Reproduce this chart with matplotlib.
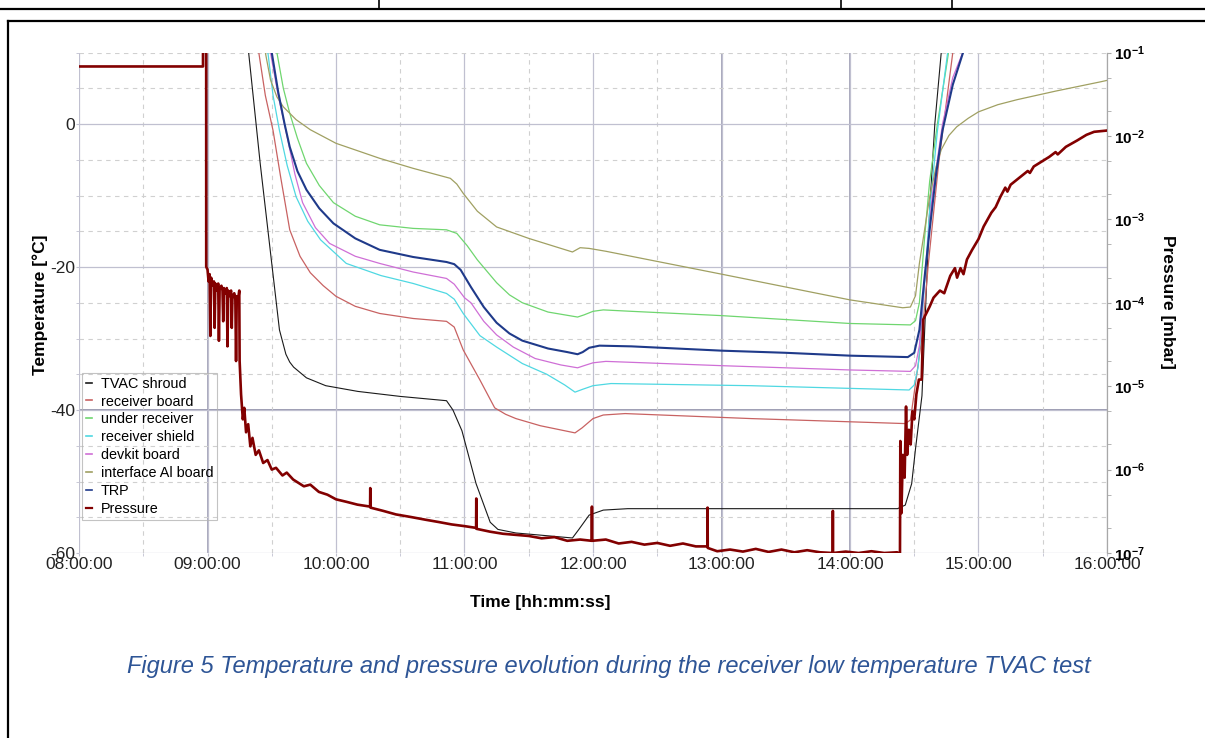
"""
Temperature and pressure evolution during the receiver low temperature TVAC test.
"""
import math
import matplotlib
matplotlib.use("Agg")
import matplotlib.pyplot as plt
import matplotlib.dates as mdates
from matplotlib.lines import Line2D
from matplotlib.ticker import MultipleLocator, LogLocator, FuncFormatter, NullFormatter
import pandas as pd

DAY = "2019-05-14 "

# ---- temperature series [degC] ----
shroud_t = ["09:16:48", "09:19:12", "09:24:36", "09:30:00", "09:33:36", "09:36:36", "09:38:24",
            "09:40:12", "09:46:12", "09:55:12", "10:10:12", "10:30:00", "10:51:36", "10:54:36",
            "10:58:48", "11:05:24", "11:12:00", "11:15:36", "11:24:00", "11:35:24", "11:50:24",
            "11:53:24", "11:58:12", "12:04:48", "12:16:12", "13:30:00", "14:22:12", "14:25:48",
            "14:28:48", "14:30:36", "14:33:36", "14:35:24", "14:37:12", "14:39:36", "14:42:36",
            "14:43:48"]
shroud_v = [20, 10, -5.5, -19.5, -28.8, -32.2, -33.3,
            -34.0, -35.5, -36.6, -37.4, -38.1, -38.7, -40.0,
            -42.9, -50.3, -55.7, -56.7, -57.2, -57.5, -57.9,
            -56.7, -54.7, -54.0, -53.8, -53.8, -53.8, -53.3,
            -50.3, -45.4, -38.0, -25.0, -12.0, 0.0, 10.0,
            16]

board_t = ["09:22:12", "09:24:00", "09:27:00", "09:30:36", "09:34:12", "09:38:24", "09:43:12",
           "09:48:00", "09:54:00", "10:00:00", "10:09:00", "10:20:24", "10:36:00", "10:51:36",
           "10:55:12", "10:59:24", "11:07:12", "11:14:06", "11:19:12", "11:24:00", "11:35:24",
           "11:51:36", "11:54:54", "12:00:00", "12:04:48", "12:15:00", "13:13:48", "14:25:48",
           "14:28:12", "14:31:12", "14:33:36", "14:36:36", "14:41:24", "14:45:00", "14:48:00",
           "14:49:48"]
board_v = [18, 9.9, 4.0, -0.9, -7.5, -14.8, -18.5,
           -20.8, -22.6, -24.1, -25.5, -26.5, -27.2, -27.6,
           -28.4, -31.6, -35.8, -39.7, -40.6, -41.2, -42.2,
           -43.2, -42.5, -41.2, -40.7, -40.5, -41.2, -41.9,
           -41.4, -35.0, -29.8, -19.5, -5.5, 3.0, 10.0,
           15]

under_t = ["09:30:00", "09:32:24", "09:35:24", "09:38:24", "09:42:00", "09:46:12", "09:52:12",
           "09:58:48", "10:09:00", "10:20:24", "10:36:00", "10:51:36", "10:56:24", "11:01:12",
           "11:06:00", "11:15:00", "11:21:00", "11:27:00", "11:39:00", "11:52:48", "11:55:48",
           "12:00:00", "12:04:48", "12:18:00", "13:00:00", "14:00:00", "14:28:12", "14:30:36",
           "14:32:24", "14:34:48", "14:37:12", "14:40:48", "14:45:00", "14:48:00"]
under_v = [18, 10, 5.0, 1.5, -2.0, -5.5, -8.6,
           -11.0, -12.9, -14.1, -14.6, -14.8, -15.3, -17.0,
           -19.0, -22.2, -23.9, -25.0, -26.3, -27.0, -26.7,
           -26.2, -26.0, -26.2, -26.8, -27.9, -28.1, -27.5,
           -25.0, -16.0, -8.0, 0.0, 8.0, 14]

shield_t = ["09:25:48", "09:28:12", "09:30:36", "09:33:36", "09:37:12", "09:41:24", "09:46:48",
            "09:52:48", "10:04:48", "10:21:00", "10:36:00", "10:51:36", "10:55:12", "10:59:24",
            "11:07:12", "11:15:00", "11:27:00", "11:38:24", "11:46:48", "11:51:36", "11:55:12",
            "12:00:00", "12:08:24", "13:13:48", "14:27:36", "14:30:00", "14:31:48", "14:34:12",
            "14:37:12", "14:40:48", "14:43:12", "14:45:36", "14:48:00"]
shield_v = [18, 10, 4.0, -0.9, -5.8, -10.2, -13.6,
            -16.2, -19.5, -21.2, -22.3, -23.7, -24.5, -26.5,
            -29.6, -31.2, -33.5, -35.0, -36.5, -37.5, -37.1,
            -36.6, -36.3, -36.6, -37.2, -36.5, -34.0, -25.0,
            -12.0, -1.0, 4.5, 10.0, 15]

devkit_t = ["09:26:24", "09:29:24", "09:33:00", "09:37:12", "09:40:48", "09:44:24", "09:50:24",
            "09:57:00", "10:09:00", "10:20:24", "10:36:00", "10:51:36", "10:55:12", "11:00:00",
            "11:03:00", "11:09:00", "11:15:00", "11:22:48", "11:33:00", "11:45:00", "11:52:48",
            "11:55:48", "12:00:00", "12:06:00", "13:00:00", "14:00:00", "14:28:12", "14:30:36",
            "14:32:24", "14:34:48", "14:38:24", "14:43:12", "14:48:00", "14:54:00"]
devkit_v = [18, 10, 4.0, -1.8, -7.0, -11.0, -14.5,
            -16.7, -18.5, -19.5, -20.7, -21.6, -22.4, -24.3,
            -25.0, -27.6, -29.5, -31.2, -32.8, -33.7, -34.1,
            -33.8, -33.4, -33.2, -33.8, -34.4, -34.6, -33.8,
            -31.0, -22.0, -10.0, 0.0, 6.5, 11.0]

alboard_t = ["09:24:00", "09:27:00", "09:29:24", "09:32:24", "09:35:24", "09:41:24", "09:48:00",
             "10:00:00", "10:20:24", "10:36:00", "10:53:24", "10:56:24", "10:59:24", "11:06:00",
             "11:15:00", "11:30:00", "11:50:24", "11:54:00", "11:58:12", "12:06:00", "13:00:00",
             "14:00:00", "14:24:36", "14:28:12", "14:30:36", "14:32:24", "14:37:12", "14:40:12",
             "14:42:36", "14:46:12", "14:49:48", "14:55:12", "15:00:00", "15:09:00", "15:18:00",
             "15:36:00", "15:57:00", "16:00:00"]
alboard_v = [16, 10, 6.2, 3.8, 2.4, 0.6, -0.8,
             -2.7, -4.8, -6.2, -7.6, -8.4, -9.7, -12.2,
             -14.4, -16.0, -17.9, -17.3, -17.4, -17.8, -21.0,
             -24.6, -25.7, -25.6, -24.0, -19.5, -10.2, -6.0,
             -3.6, -1.6, -0.4, 0.8, 1.7, 2.7, 3.4,
             4.6, 5.9, 6.1]

trp_t = ["09:27:36", "09:30:00", "09:33:00", "09:36:00", "09:38:24", "09:42:00", "09:46:12",
         "09:52:12", "09:58:48", "10:09:00", "10:20:24", "10:36:00", "10:51:36", "10:55:12",
         "10:58:12", "11:03:00", "11:09:00", "11:15:00", "11:21:00", "11:27:00", "11:39:00",
         "11:48:00", "11:52:48", "11:55:12", "11:58:12", "12:03:00", "12:18:00", "13:00:00",
         "13:30:00", "14:00:00", "14:27:00", "14:30:00", "14:32:24", "14:34:48", "14:37:12",
         "14:40:12", "14:43:12", "14:48:00", "14:52:48", "14:55:48"]
trp_v = [18, 10, 4.5, 0.0, -3.2, -6.6, -9.2,
         -11.8, -13.9, -16.0, -17.6, -18.6, -19.3, -19.6,
         -20.4, -22.8, -25.6, -27.8, -29.3, -30.3, -31.4,
         -31.9, -32.2, -31.9, -31.3, -31.0, -31.1, -31.7,
         -32.0, -32.4, -32.6, -32.0, -28.8, -21.5, -14.8,
         -7.0, -0.9, 5.5, 10.0, 13]

# ---- pressure [mbar] ----
press_t = ["08:00:00", "08:57:54", "08:57:55", "08:59:23", "08:59:24", "09:00:00", "09:00:30",
           "09:01:00", "09:01:20", "09:01:40", "09:02:30", "09:03:00", "09:03:20", "09:03:40",
           "09:04:30", "09:05:00", "09:05:20", "09:05:40", "09:06:30", "09:07:00", "09:07:20",
           "09:07:40", "09:08:30", "09:09:00", "09:09:20", "09:09:40", "09:10:30", "09:11:00",
           "09:11:20", "09:11:40", "09:12:30", "09:13:00", "09:13:20", "09:13:40", "09:14:20",
           "09:14:50", "09:15:00", "09:15:40", "09:16:30", "09:17:10", "09:18:00", "09:19:00",
           "09:20:00", "09:21:00", "09:22:30", "09:24:00", "09:26:00", "09:28:00", "09:30:00",
           "09:32:00", "09:35:00", "09:37:00", "09:40:00", "09:45:00", "09:48:00", "09:52:00",
           "09:56:00", "10:00:00", "10:05:00", "10:10:00", "10:15:55", "10:16:00", "10:16:05",
           "10:22:00", "10:28:00", "10:35:00", "10:42:00", "10:48:00", "10:54:00", "11:00:00",
           "11:05:25", "11:05:30", "11:05:35", "11:12:00", "11:18:00", "11:24:00", "11:30:00",
           "11:36:00", "11:42:00", "11:48:00", "11:54:00", "11:59:25", "11:59:30", "11:59:35",
           "12:06:00", "12:12:00", "12:18:00", "12:24:00", "12:30:00", "12:36:00", "12:42:00",
           "12:48:00", "12:53:25", "12:53:30", "12:53:35", "12:58:00", "13:04:00", "13:10:00",
           "13:16:00", "13:22:00", "13:28:00", "13:34:00", "13:40:00", "13:46:00", "13:51:55",
           "13:52:00", "13:52:05", "13:58:00", "14:04:00", "14:10:00", "14:16:00", "14:22:00",
           "14:23:20", "14:23:30", "14:24:00", "14:24:40", "14:25:30", "14:26:10", "14:26:40",
           "14:27:30", "14:28:20", "14:29:10", "14:30:00", "14:31:00", "14:32:10", "14:33:29",
           "14:34:12", "14:37:12", "14:39:00", "14:42:00", "14:44:00", "14:46:48", "14:49:00",
           "14:50:00", "14:51:36", "14:53:00", "14:54:36", "14:57:00", "15:00:00", "15:02:24",
           "15:06:00", "15:08:00", "15:10:12", "15:12:30", "15:13:30", "15:15:00", "15:20:00",
           "15:23:00", "15:24:00", "15:25:48", "15:33:00", "15:36:00", "15:37:00", "15:40:48",
           "15:46:00", "15:50:24", "15:54:00", "16:00:00"]
press_v = [0.068, 0.068, 0.3, 0.3, 2.7e-4, 2.5e-4, 1.8e-4,
           2.2e-4, 4e-5, 2.0e-4, 1.6e-4, 1.8e-4, 5e-5, 1.7e-4,
           1.4e-4, 1.7e-4, 3.5e-5, 1.5e-4, 1.6e-4, 1.4e-4, 6e-5,
           1.5e-4, 1.3e-4, 1.5e-4, 3e-5, 1.4e-4, 1.2e-4, 1.4e-4,
           5e-5, 1.2e-4, 1.3e-4, 1.1e-4, 2e-5, 1.2e-4, 1.1e-4,
           1.4e-4, 2.0e-5, 8e-6, 4e-6, 5.5e-6, 2.8e-6, 3.5e-6,
           1.9e-6, 2.4e-6, 1.5e-6, 1.7e-6, 1.2e-6, 1.3e-6, 1.0e-6,
           1.05e-6, 8.5e-7, 9.2e-7, 7.6e-7, 6.3e-7, 6.6e-7, 5.4e-7,
           5.0e-7, 4.4e-7, 4.1e-7, 3.8e-7, 3.6e-7, 6.0e-7, 3.5e-7,
           3.2e-7, 2.9e-7, 2.7e-7, 2.5e-7, 2.35e-7, 2.2e-7, 2.1e-7,
           2.0e-7, 4.5e-7, 1.95e-7, 1.8e-7, 1.7e-7, 1.65e-7, 1.6e-7,
           1.5e-7, 1.55e-7, 1.4e-7, 1.45e-7, 1.4e-7, 3.6e-7, 1.4e-7,
           1.45e-7, 1.3e-7, 1.36e-7, 1.26e-7, 1.32e-7, 1.22e-7, 1.3e-7,
           1.2e-7, 1.2e-7, 3.5e-7, 1.15e-7, 1.05e-7, 1.1e-7, 1.04e-7,
           1.12e-7, 1.03e-7, 1.1e-7, 1.02e-7, 1.08e-7, 1.02e-7, 1.0e-7,
           3.2e-7, 1.0e-7, 1.04e-7, 1.0e-7, 1.05e-7, 1.0e-7, 1.02e-7,
           9.8e-8, 2.2e-6, 3e-7, 1.5e-6, 8e-7, 5.7e-6, 1.5e-6,
           3e-6, 2e-6, 5e-6, 4e-6, 8e-6, 1.2e-5, 1.2e-5,
           6.3e-5, 9e-5, 1.15e-4, 1.4e-4, 1.3e-4, 2.1e-4, 2.6e-4,
           2.0e-4, 2.6e-4, 2.2e-4, 3.3e-4, 4.3e-4, 5.8e-4, 8.2e-4,
           1.2e-3, 1.4e-3, 1.86e-3, 2.4e-3, 2.15e-3, 2.6e-3, 3.3e-3,
           3.8e-3, 3.6e-3, 4.3e-3, 5.6e-3, 6.4e-3, 6.0e-3, 7.4e-3,
           8.8e-3, 1.03e-2, 1.12e-2, 1.16e-2]

event_times = ["09:00:00", "13:00:00", "14:00:00"]
limit_temps = [-40]
x_range = ["08:00:00", "16:00:00"]

labels = ["TVAC shroud", "receiver board", "under receiver", "receiver shield",
          "devkit board", "interface Al board", "TRP", "Pressure"]


def to_time(hms):
    return pd.to_datetime([DAY + t for t in hms])


plt.rcParams['font.family'] = ['Liberation Sans', 'DejaVu Sans']
plt.rcParams['axes.unicode_minus'] = False
plt.rcParams['mathtext.fontset'] = 'custom'
plt.rcParams['mathtext.rm'] = 'Liberation Sans'
plt.rcParams['mathtext.bf'] = 'Liberation Sans:bold'

W, H = 1205, 738
fig = plt.figure(figsize=(W / 100, H / 100), dpi=100, facecolor='white')
ax = fig.add_axes([79 / W, 1 - 553 / H, (1107 - 79) / W, (553 - 52.5) / H])
ax.set_facecolor('none')

grid_c = '#c0c0d0'
ax.set_ylim(-60, 10)
xr = to_time(x_range)
ax.set_xlim(xr[0], xr[1])
ax.yaxis.set_major_locator(MultipleLocator(20))
ax.yaxis.set_minor_locator(MultipleLocator(5))
ax.xaxis.set_major_locator(mdates.HourLocator())
ax.xaxis.set_minor_locator(mdates.MinuteLocator(byminute=[30]))
ax.xaxis.set_major_formatter(mdates.DateFormatter('%H:%M:%S'))
ax.grid(which='major', color=grid_c, lw=0.9, zorder=0)
ax.grid(which='minor', color='#d0d0d0', lw=0.8, ls=(0, (4, 4)), zorder=0)
ax.tick_params(which='both', length=2, color=grid_c, labelsize=12.5, pad=1, labelcolor='#222222')
for s in ax.spines.values():
    s.set_visible(False)

for t in to_time(event_times):
    ax.axvline(t, color='#9a9ab0', lw=1.2, zorder=0.5)
for v in limit_temps:
    ax.axhline(v, color='#9a9ab0', lw=1.4, zorder=0.5)

series = [
    (shroud_t, shroud_v, '#1a1a1a', 0.8),
    (board_t, board_v, '#c86262', 0.9),
    (under_t, under_v, '#6fd66f', 0.9),
    (shield_t, shield_v, '#4fd8e2', 0.9),
    (devkit_t, devkit_v, '#cf6fd6', 0.9),
    (alboard_t, alboard_v, '#a0a062', 0.9),
    (trp_t, trp_v, '#1f3a8a', 1.5),
]
handles = []
for (tt, vv, c, lw), lab in zip(series, labels):
    ax.plot(to_time(tt), vv, color=c, lw=lw, zorder=2)
    handles.append(Line2D([], [], color=c, lw=1.2))

ax2 = ax.twinx()
ax2.set_yscale('log')
ax2.set_ylim(1e-7, 1e-1)
ax2.plot(to_time(press_t), press_v, color='#820000', lw=1.9, zorder=3)
handles.append(Line2D([], [], color='#820000', lw=1.6))
ax2.yaxis.set_major_locator(LogLocator(base=10, numticks=10))
ax2.yaxis.set_minor_locator(LogLocator(base=10, subs=(2, 5), numticks=10))
ax2.yaxis.set_minor_formatter(NullFormatter())
ax2.yaxis.set_major_formatter(
    FuncFormatter(lambda v, p: r'$\mathbf{10^{%d}}$' % int(round(math.log10(v)))))
ax2.tick_params(which='both', length=3, color='#a8a8a8', labelsize=11, pad=2)
for k, s in ax2.spines.items():
    s.set_visible(k == 'right')
ax2.spines['right'].set_color('#a8a8a8')
ax2.spines['right'].set_linewidth(0.9)

leg = ax2.legend(handles, labels, loc='upper left', bbox_to_anchor=(82 / W, 1 - 373 / H),
                 bbox_transform=fig.transFigure, fontsize=10.4, frameon=True, fancybox=False,
                 edgecolor='#b4b4b4', handlelength=0.45, handletextpad=0.6,
                 labelspacing=0.27, borderpad=0.25, borderaxespad=0)
leg.get_frame().set_facecolor('none')
leg.get_frame().set_linewidth(0.8)

fig.text(40 / W, 1 - 305 / H, 'Temperature [°C]', rotation=90, ha='center', va='center',
         fontsize=12.5, fontweight='bold')
fig.text(1168 / W, 1 - 302 / H, 'Pressure [mbar]', rotation=270, ha='center', va='center',
         fontsize=12.5, fontweight='bold')
fig.text(540 / W, 1 - 603 / H, 'Time [hh:mm:ss]', ha='center', va='center',
         fontsize=12.5, fontweight='bold')

fig.text(609 / W, 1 - 666 / H,
         'Figure 5 Temperature and pressure evolution during the receiver low temperature TVAC test',
         ha='center', va='center', fontsize=17, style='italic', color='#2e5596')


# page borders of the surrounding document
def page_line(x0, y0, x1, y1, lw=1.6):
    fig.add_artist(Line2D([x0 / W, x1 / W], [1 - y0 / H, 1 - y1 / H], color='black', lw=lw,
                          transform=fig.transFigure))


page_line(0, 9, W, 9)
for xv in [379, 841, 952]:
    page_line(xv, 0, xv, 9, lw=1.2)
page_line(8, 21, W, 21)
page_line(8, 21, 8, H)

fig.savefig('out.png', dpi=100, facecolor='white')
